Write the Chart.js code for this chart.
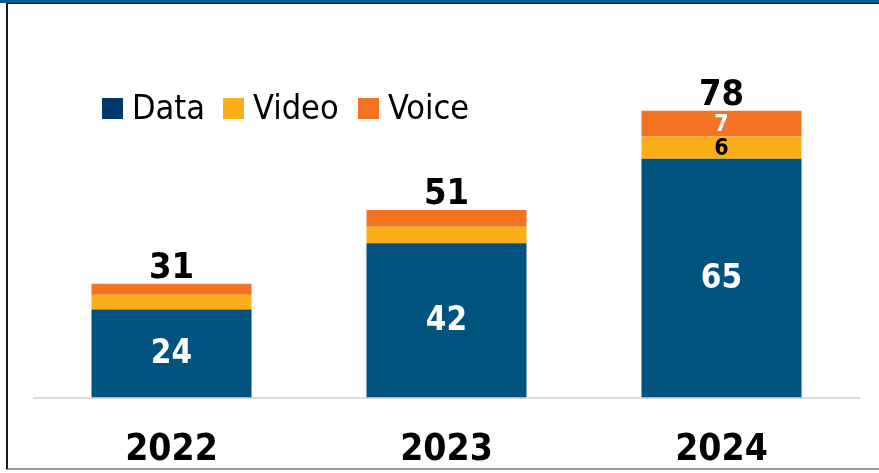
<!DOCTYPE html>
<html>
<head>
<meta charset="utf-8">
<script src="https://cdn.jsdelivr.net/npm/chart.js@4/dist/chart.umd.min.js"></script>
<style>
    html, body { margin: 0; padding: 0; background: #fff; }
    body { width: 879px; height: 473px; position: relative; overflow: hidden; }
    .top-strip { position: absolute; left: 0; top: 0; width: 879px; height: 3px; background: #0b5a8c; }
    .frame {
        position: absolute; left: 6px; top: 3px; width: 880px; height: 464px;
        border-top: 1px solid #1a1a1a; border-left: 2px solid #1a1a1a; border-bottom: 2px solid #9a9a9a;
    }
    #chart { position: absolute; left: 0; top: 0; }
</style>
</head>
<body>
<div class="top-strip"></div>
<div class="frame"></div>
<canvas id="chart" width="879" height="473"></canvas>
<script>
const years = ['2022', '2023', '2024'];
const dataValues = [24, 42, 65];
const videoValues = [4, 4.5, 6];
const voiceValues = [3, 4.5, 7];
const totals = [31, 51, 78];

const FONT = "'DejaVu Sans Condensed', 'DejaVu Sans', sans-serif";

// Value labels inside the segments, totals above, and the inline legend
const labelPlugin = {
    id: 'labels',
    afterDatasetsDraw(chart) {
        const ctx = chart.ctx;
        ctx.save();
        ctx.textAlign = 'center';

        // data segment values
        const dataMeta = chart.getDatasetMeta(0);
        dataMeta.data.forEach((bar, i) => {
            ctx.fillStyle = '#ffffff';
            ctx.font = `bold 33px ${FONT}`;
            ctx.textBaseline = 'middle';
            ctx.fillText(String(dataValues[i]), bar.x, (bar.y + bar.base) / 2 + 1);
        });

        // small segments only get a label when there is room for it
        [[1, videoValues, '#000000'], [2, voiceValues, '#ffffff']].forEach(([idx, vals, color]) => {
            chart.getDatasetMeta(idx).data.forEach((bar, i) => {
                if (bar.base - bar.y < 20) return;
                ctx.fillStyle = color;
                ctx.font = `bold 23px ${FONT}`;
                ctx.textBaseline = 'middle';
                ctx.fillText(String(vals[i]), bar.x, (bar.y + bar.base) / 2 + 1);
            });
        });

        // totals above each stack
        const topMeta = chart.getDatasetMeta(2);
        topMeta.data.forEach((bar, i) => {
            ctx.fillStyle = '#000000';
            ctx.font = `bold 36px ${FONT}`;
            ctx.textBaseline = 'alphabetic';
            ctx.fillText(String(totals[i]), bar.x, bar.y - 6);
        });

        // legend
        const legendItems = [
            { text: 'Data', color: '#00386a', x: 102 },
            { text: 'Video', color: '#fbae17', x: 223 },
            { text: 'Voice', color: '#f47321', x: 358 }
        ];
        ctx.textAlign = 'left';
        ctx.textBaseline = 'alphabetic';
        ctx.font = `34px ${FONT}`;
        legendItems.forEach(item => {
            ctx.fillStyle = item.color;
            ctx.fillRect(item.x, 98, 21, 21);
            ctx.fillStyle = '#000000';
            ctx.fillText(item.text, item.x + 30, 119);
        });
        ctx.restore();
    }
};

new Chart(document.getElementById('chart'), {
    type: 'bar',
    data: {
        labels: years,
        datasets: [
            { label: 'Data', data: dataValues, backgroundColor: '#01537f' },
            { label: 'Video', data: videoValues, backgroundColor: '#fbae17' },
            { label: 'Voice', data: voiceValues, backgroundColor: '#f47323' }
        ]
    },
    options: {
        responsive: false,
        animation: false,
        layout: { padding: { left: 34, right: 20, top: 30, bottom: -31 } },
        datasets: {
            bar: { categoryPercentage: 1, barPercentage: 0.582, borderWidth: 0 }
        },
        plugins: {
            legend: { display: false },
            tooltip: { enabled: false }
        },
        scales: {
            x: {
                stacked: true,
                grid: { display: false, drawTicks: false },
                border: { display: true, color: '#d9d9d9', width: 2 },
                ticks: {
                    color: '#000000',
                    padding: 31,
                    font: { family: FONT, size: 37, weight: 'bold' }
                }
            },
            y: {
                stacked: true,
                display: false,
                min: 0,
                max: 100
            }
        }
    },
    plugins: [labelPlugin]
});
</script>
</body>
</html>
